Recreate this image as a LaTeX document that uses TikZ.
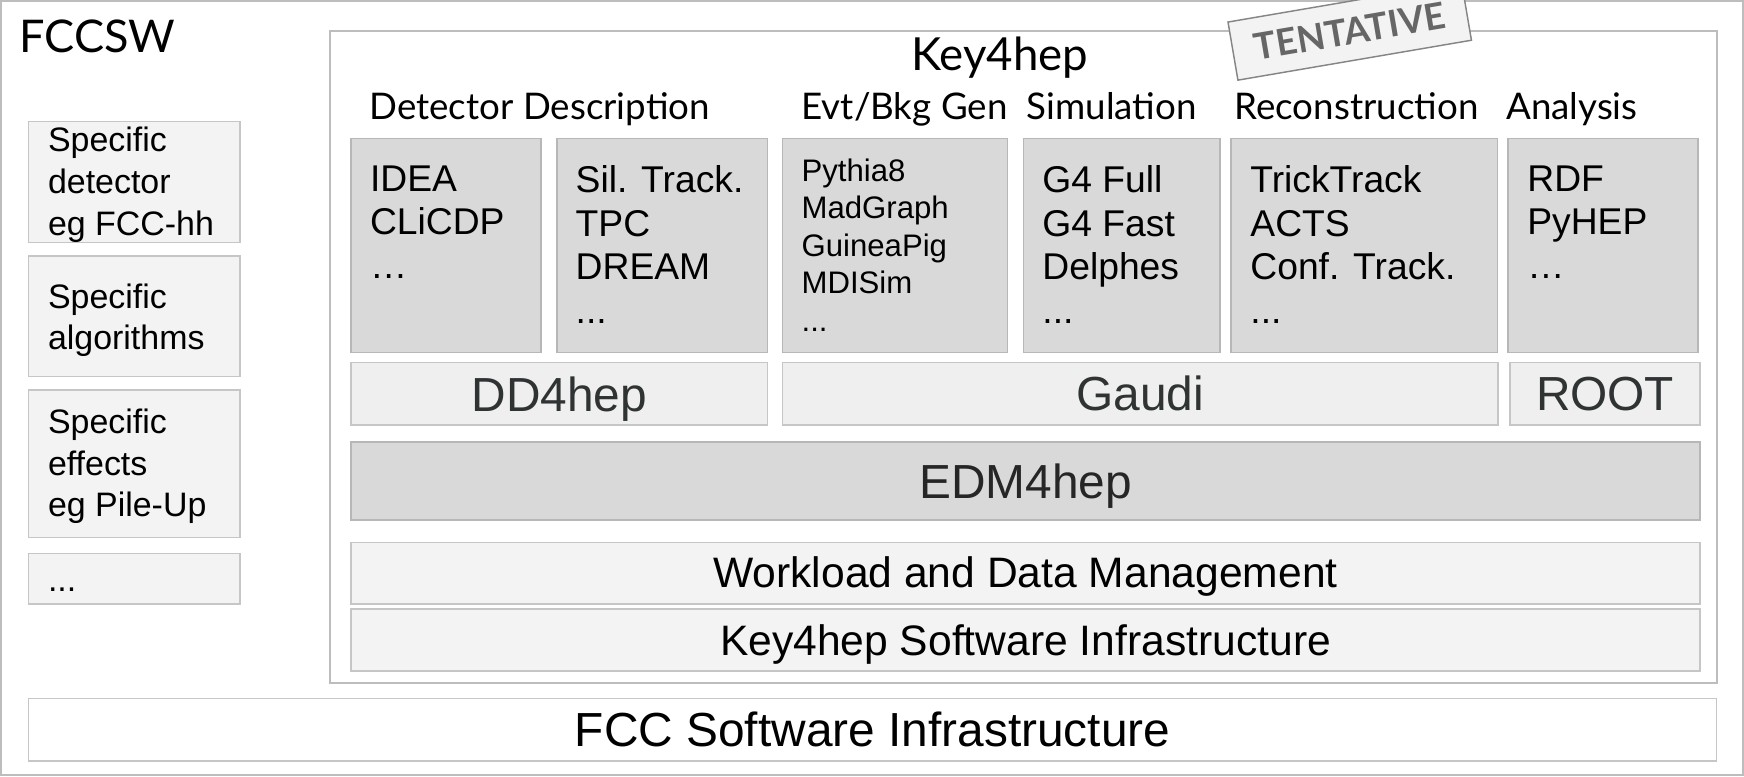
\documentclass[tikz,border=0pt]{standalone}
\usepackage{fontspec}
\setmainfont{Liberation Sans}
\newfontfamily\headfont{Lato}
\definecolor{framegray}{HTML}{BDBDBD}
\definecolor{boxdark}{HTML}{D9D9D9}
\definecolor{edgedark}{HTML}{B7B7B7}
\definecolor{boxlight}{HTML}{F3F3F3}
\definecolor{boxmid}{HTML}{EFEFEF}
\definecolor{edgelight}{HTML}{C6C6C6}
\definecolor{tagedge}{HTML}{858585}
\definecolor{taggray}{HTML}{666666}
\definecolor{layertext}{HTML}{2F3333}

\begin{document}
\begin{tikzpicture}[x=1pt, y=-1pt,
  outline/.style={draw=framegray, line width=1.5pt},
  darkbox/.style={fill=boxdark, draw=edgedark, line width=1.3pt},
  lightbox/.style={fill=boxlight, draw=edgelight, line width=1.3pt},
  midbox/.style={fill=boxmid, draw=edgelight, line width=1.3pt},
  toollist/.style={anchor=north west, inner sep=0pt, align=left, font=\fontsize{33.5}{39}\selectfont},
  genlist/.style={toollist, font=\fontsize{28}{33.8}\selectfont},
  sidelist/.style={toollist, font=\fontsize{30.5}{37.5}\selectfont},
  header/.style={anchor=base west, inner sep=0pt, font=\headfont\fontsize{33}{40}\selectfont},
  layer/.style={anchor=base, inner sep=0pt, text=layertext, font=\fontsize{43}{50}\selectfont}]
\useasboundingbox (0,0) rectangle (1568,698);
\draw[outline] (1,1) rectangle (1567,697); %outer frame
\node[header, font=\headfont\fontsize{40.5}{46}\selectfont] (fccsw) at (17.5,46.8) {FCCSW};

%left column, fccsw specific
\draw[lightbox] (25.8,109.4) rectangle (215.8,218.2);
\node[sidelist] (specdet) at (43,114.2) {Specific\\detector\\eg FCC-hh};
\draw[lightbox] (25.8,230) rectangle (215.8,338.7);
\node[sidelist] (specalg) at (43,254.8) {Specific\\algorithms};
\draw[lightbox] (25.8,350.7) rectangle (215.8,483.4);
\node[sidelist] (speceff) at (43,367.4) {Specific\\effects\\eg Pile-Up};
\draw[lightbox] (25.8,497.5) rectangle (215.8,543);
\node[sidelist, anchor=base west] (specmore) at (43,532) {...};

%key4hep frame
\draw[outline] (296.7,28) rectangle (1543.5,613.8);
\node[header, font=\headfont\fontsize{41}{46}\selectfont] (key4hep) at (819,63) {Key4hep};

%column headers
\node[header] (detdesc) at (332,107.5) {Detector Description};
\node[header] (evtgen) at (720.4,107.5) {Evt/Bkg Gen};
\node[header] (simu) at (923,107.5) {Simulation};
\node[header] (reco) at (1109.7,107.5) {Reconstruction};
\node[header] (ana) at (1354,107.5) {Analysis};

%tool boxes
\draw[darkbox] (315.6,124.4) rectangle (486.5,316.8);
\node[toollist] (detmodels) at (332.5,149) {IDEA\\CLiCDP\\…};
\draw[darkbox] (500.9,124.4) rectangle (690,316.8);
\node[toollist] (subdets) at (517.4,149) {Sil. Track.\\TPC\\DREAM\\...};
\draw[darkbox] (703.6,124.4) rectangle (905.9,316.8);
\node[genlist] (generators) at (720.5,142.4) {Pythia8\\MadGraph\\GuineaPig\\MDISim\\...};
\draw[darkbox] (920,124.4) rectangle (1097,316.8);
\node[toollist] (simtools) at (937,149) {G4 Full\\G4 Fast\\Delphes\\...};
\draw[darkbox] (1106.6,124.4) rectangle (1346.6,316.8);
\node[toollist] (recotools) at (1124,149) {TrickTrack\\ACTS\\Conf. Track.\\...};
\draw[darkbox] (1355.8,124.4) rectangle (1526.8,316.8);
\node[toollist] (anatools) at (1373,149) {RDF\\PyHEP\\…};

%frameworks
\draw[midbox] (315.6,325.8) rectangle (690,382.1);
\node[layer] (dd4hep) at (502.8,370) {DD4hep};
\draw[midbox] (703.6,325.8) rectangle (1347,382.1);
\node[layer] (gaudi) at (1025.3,369.5) {Gaudi};
\draw[midbox] (1357.7,325.8) rectangle (1528.5,382.1);
\node[layer] (root) at (1443.1,369.5) {ROOT};

%data model and infrastructure
\draw[darkbox] (315.6,397.4) rectangle (1528.5,467.5);
\node[layer, text=black!85] (edm4hep) at (922,448) {EDM4hep};
\draw[lightbox] (315.6,487.6) rectangle (1528.5,543);
\node[layer, text=black, font=\fontsize{38.3}{44}\selectfont] (workload) at (922,528) {Workload and Data Management};
\draw[lightbox] (315.6,547.6) rectangle (1528.5,603.3);
\node[layer, text=black, font=\fontsize{38.3}{44}\selectfont] (keysi) at (922,589) {Key4hep Software Infrastructure};
\draw[fill=white, draw=edgelight, line width=1.3pt] (25.8,627.9) rectangle (1543.3,684.2);
\node[layer, text=black] (fccsi) at (784.5,671.4) {FCC Software Infrastructure};

%tentative tag
\node[draw=tagedge, fill=boxlight, line width=1.3pt, rotate=9.7, minimum width=213pt, minimum height=53pt, inner sep=0pt, text=taggray, font=\headfont\bfseries\fontsize{33}{38}\selectfont] (tentative) at (1213.5,28) {TENTATIVE};
\end{tikzpicture}
\end{document}
